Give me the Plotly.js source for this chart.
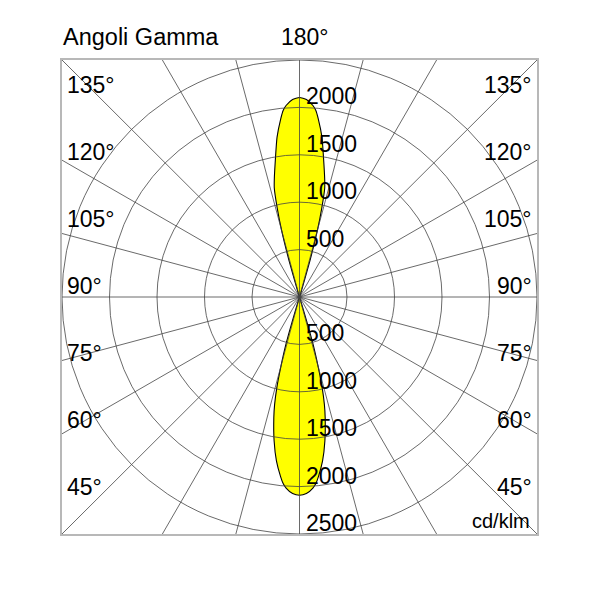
<!DOCTYPE html>
<html>
<head>
<meta charset="utf-8">
<script src="https://cdn.plot.ly/plotly-3.0.1.min.js"></script>
<style>html,body{margin:0;padding:0;background:#fff;}</style>
</head>
<body>
<div id="chart" style="width:591px;height:591px;"></div>
<script>
// ---- data ----
const gammaLower = [0, 2, 4, 5, 6, 8, 10, 12, 13, 14, 15, 16, 17, 18];
const cdLower    = [2092, 2075, 2020, 1975, 1905, 1745, 1540, 1300, 1165, 990, 750, 510, 60, 0];
const gammaUpper = [180, 178, 176, 175, 174, 172, 170, 168, 167, 166, 165, 164, 163, 162];
const cdUpper    = [2105, 2085, 2025, 1975, 1890, 1700, 1465, 1275, 1180, 975, 730, 400, 90, 0];
const ringValues = [500, 1000, 1500, 2000, 2500];
const spokeAngles = [0, 15, 30, 45, 60, 75, 90, 105, 120, 135, 150, 165];
const upperTickValues = [500, 1000, 1500, 2000];
const lowerTickValues = [500, 1000, 1500, 2000, 2500];
const leftAngleLabels = ['135°', '120°', '105°', '90°', '75°', '60°', '45°'];
const rightAngleLabels = ['135°', '120°', '105°', '90°', '75°', '60°', '45°'];
const titleText = 'Angoli Gamma';
const topAngleLabel = '180°';
const unitLabel = 'cd/klm';

// ---- build ----
const RAD = Math.PI / 180;
function lobe(gammas, cds) {
  const xs = [], ys = [];
  for (let i = gammas.length - 1; i >= 0; i--) {
    const g = gammas[i] * RAD;
    xs.push(cds[i] * Math.sin(g)); ys.push(-cds[i] * Math.cos(g));
  }
  for (let i = 1; i < gammas.length; i++) {
    const g = gammas[i] * RAD;
    xs.push(-cds[i] * Math.sin(g)); ys.push(-cds[i] * Math.cos(g));
  }
  return { xs, ys };
}
const up = lobe(gammaUpper, cdUpper);
const lo = lobe(gammaLower, cdLower);
const lobeStyle = {
  type: 'scatter', mode: 'lines', fill: 'toself', fillcolor: '#ffff00',
  line: { color: '#000000', width: 1.1, shape: 'spline', smoothing: 0.5 },
  hoverinfo: 'skip', showlegend: false
};
const traces = [
  Object.assign({}, lobeStyle, { x: up.xs, y: up.ys }),
  Object.assign({}, lobeStyle, { x: lo.xs, y: lo.ys })
];

const gridLine = { color: '#444444', width: 0.8 };
const shapes = [];
ringValues.forEach(r => shapes.push({
  type: 'circle', xref: 'x', yref: 'y', x0: -r, x1: r, y0: -r, y1: r, line: gridLine, layer: 'above'
}));
const L = 6000;
spokeAngles.forEach(a => shapes.push({
  type: 'line', xref: 'x', yref: 'y',
  x0: -L * Math.sin(a * RAD), y0: -L * Math.cos(a * RAD),
  x1: L * Math.sin(a * RAD), y1: L * Math.cos(a * RAD),
  line: gridLine, layer: 'above'
}));

const FONT = 'Liberation Sans, Arial, Helvetica, sans-serif';
const big = { family: FONT, size: 23, color: '#000000' };
const annotations = [];
upperTickValues.forEach(v => annotations.push({
  xref: 'x', yref: 'y', x: 0, y: v, text: String(v), showarrow: false,
  xanchor: 'left', yanchor: 'bottom', xshift: 4, yshift: -4, font: big
}));
lowerTickValues.forEach(v => annotations.push({
  xref: 'x', yref: 'y', x: 0, y: -v, text: String(v), showarrow: false,
  xanchor: 'left', yanchor: 'bottom', xshift: 4, yshift: -4, font: big
}));
const rowY = [0.9473, 0.8059, 0.6646, 0.5222, 0.3819, 0.2405, 0.0992];
leftAngleLabels.forEach((t, i) => annotations.push({
  xref: 'paper', yref: 'paper', x: 0, y: rowY[i], text: t, showarrow: false,
  xanchor: 'left', yanchor: 'middle', xshift: 3, font: big
}));
rightAngleLabels.forEach((t, i) => annotations.push({
  xref: 'paper', yref: 'paper', x: 1, y: rowY[i], text: t, showarrow: false,
  xanchor: 'right', yanchor: 'middle', xshift: -3, font: big
}));
annotations.push({
  xref: 'paper', yref: 'paper', x: 0, y: 1.049, text: titleText, showarrow: false,
  xanchor: 'left', yanchor: 'middle', xshift: -1, font: Object.assign({}, big, { size: 23.5 })
});
annotations.push({
  xref: 'paper', yref: 'paper', x: 0.5116, y: 1.049, text: topAngleLabel, showarrow: false,
  xanchor: 'center', yanchor: 'middle', font: big
});
annotations.push({
  xref: 'paper', yref: 'paper', x: 1, y: 0.0274, text: unitLabel, showarrow: false,
  xanchor: 'right', yanchor: 'middle', xshift: -5,
  font: { family: FONT, size: 20, color: '#000000' }
});

const axisCommon = {
  range: [-2500, 2500], showgrid: false, zeroline: false, showticklabels: false,
  ticks: '', showline: true, mirror: true, linecolor: '#b8b8b8', linewidth: 2, fixedrange: true
};
const layout = {
  width: 591, height: 591,
  margin: { l: 62, r: 54, t: 60, b: 57 },
  paper_bgcolor: '#ffffff', plot_bgcolor: '#ffffff',
  xaxis: Object.assign({}, axisCommon),
  yaxis: Object.assign({}, axisCommon),
  shapes: shapes, annotations: annotations, showlegend: false,
  font: { family: FONT }
};
Plotly.newPlot('chart', traces, layout, { displayModeBar: false, staticPlot: true });
</script>
</body>
</html>
